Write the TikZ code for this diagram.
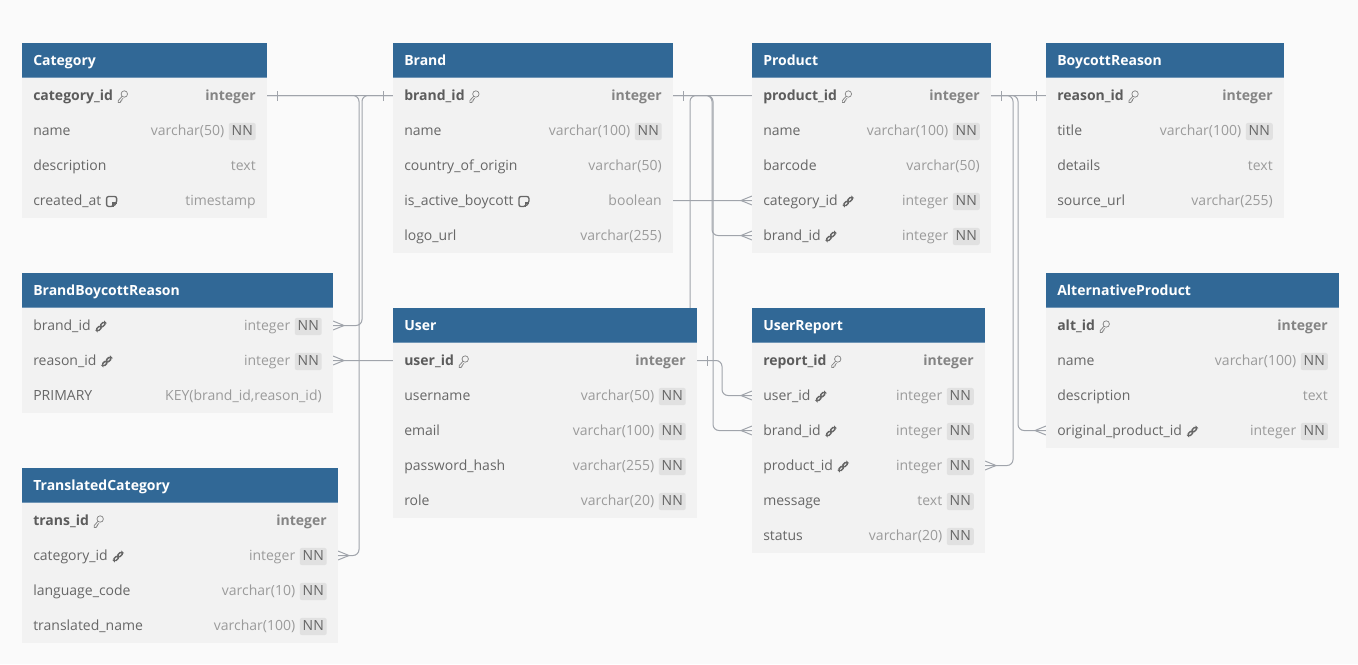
\documentclass[tikz,border=0pt]{standalone}
\usepackage{fontspec}
\setmainfont{Open Sans}
\usetikzlibrary{calc}
\definecolor{hdblue}{HTML}{316896}
\definecolor{rowgrey}{HTML}{F2F2F2}
\definecolor{canvasgrey}{HTML}{FAFAFA}
\definecolor{fldtxt}{HTML}{676767}
\definecolor{pktxt}{HTML}{5C5C5C}
\definecolor{typtxt}{HTML}{9B9B9B}
\definecolor{nnbg}{HTML}{E1E1E1}
\definecolor{relgrey}{HTML}{A0A4AB}
\pgfdeclarelayer{canvaslayer}
\pgfdeclarelayer{rellayer}
\pgfsetlayers{canvaslayer,rellayer,main}
\tikzset{
  txt/.style={inner sep=0pt, font=\fontsize{10.5pt}{12pt}\selectfont, text height=7.6pt, text depth=2.2pt},
  tbltitle/.style={txt, text=white, font=\fontsize{10.5pt}{12pt}\selectfont\bfseries},
  fldx/.style={txt, text=fldtxt},
  fldf/.style={txt, text=fldtxt},
  fldn/.style={txt, text=fldtxt},
  fldk/.style={txt, text=pktxt, font=\fontsize{10.5pt}{12pt}\selectfont\bfseries},
  typx/.style={txt, text=typtxt},
  typf/.style={txt, text=typtxt},
  typn/.style={txt, text=typtxt},
  typk/.style={txt, text=typtxt!85!black, font=\fontsize{10.5pt}{12pt}\selectfont\bfseries},
  nnbox/.style={txt, fill=nnbg, text=fldtxt, rounded corners=1.5pt, inner xsep=2.2pt, minimum height=12.8pt},
  rel/.style={draw=relgrey, line width=0.75pt, rounded corners=4.5pt},
  % icons (pic y axis points up)
  pics/icx/.style={code={}},
  pics/ick/.style={code={
    \draw[fldtxt!80, line width=0.55pt] (11,2.5) circle (3.2);
    \draw[fldtxt!80, line width=0.55pt] (8.8,0.2) -- (5,-4) -- (5,-6) -- (7,-6) -- (7.2,-4.6) -- (8.4,-4.4) -- (8.4,-3.2) -- (9.8,-1.8);
  }},
  pics/icf/.style={code={
    \draw[fldtxt, line width=1.1pt, rounded corners=1.2pt, rotate around={45:(8,-2)}] (5,-3.4) rectangle (11,-0.6);
    \draw[fldtxt, line width=1.1pt, rounded corners=1.2pt, rotate around={45:(12,2)}] (9,0.6) rectangle (15,3.4);
  }},
  pics/icn/.style={code={
    \draw[fldtxt, line width=1pt, rounded corners=1.5pt] (5,5) -- (15,5) -- (15,-1.5) -- (11.5,-5) -- (5,-5) -- cycle;
    \draw[fldtxt, line width=1pt] (15,-1.5) -- (11.5,-1.5) -- (11.5,-5);
  }},
  pics/onemark/.style={code={\draw[rel, rounded corners=0pt] (#1*10,-5) -- (#1*10,5);}},
  pics/manymark/.style={code={\draw[rel, rounded corners=0pt] (0,-4.5) -- (#1*11,0) -- (0,4.5);}},
}
% one table: id, x, y, width, title, rows (field/icon/type/notnull)
\newcommand{\ertable}[6]{%
  \fill[hdblue] (#2,#3) rectangle ++(#4,35);
  \draw[hdblue!70!white, line width=0.75pt] (#2,#3+34.5) -- ++(#4,0);
  \node[tbltitle, anchor=west] (#1) at (#2+11,#3+18.5) {#5};
  \foreach \fld/\ic/\typ/\nn [count=\i] in {#6} {
    \fill[rowgrey] (#2,#3+35*\i) rectangle ++(#4,35);
    \coordinate (#1-\i-l) at (#2,#3+17.5+35*\i);
    \coordinate (#1-\i-r) at (#2+#4,#3+17.5+35*\i);
    \node[fld\ic, anchor=west] (#1-\i-n) at (#2+11,#3+18.5+35*\i) {\fld};
    \pic at (#1-\i-n.east) {ic\ic};
    \ifnum\nn=1\relax
      \node[nnbox, anchor=east] (#1-\i-nn) at (#2+#4-11,#3+18.5+35*\i) {NN};
      \node[typ\ic, anchor=east] (#1-\i-t) at ($(#1-\i-nn.west)+(-4,0)$) {\typ};
    \else
      \node[typ\ic, anchor=east] (#1-\i-t) at (#2+#4-11,#3+18.5+35*\i) {\typ};
    \fi
  }%
}
\begin{document}
\begin{tikzpicture}[x=0.75pt,y=0.75pt,yscale=-1,xscale=1]
\begin{pgfonlayer}{canvaslayer}
\fill[canvasgrey] (0,0) rectangle (1358,664);
\end{pgfonlayer}
\useasboundingbox (0,0) rectangle (1358,664);

% Tables
\ertable{Cat}{22}{43}{245}{Category}{category\_id/k/integer/0, name/x/varchar(50)/1, description/x/text/0, created\_at/n/timestamp/0}
\ertable{Brand}{393}{43}{280}{Brand}{brand\_id/k/integer/0, name/x/varchar(100)/1, country\_of\_origin/x/varchar(50)/0, is\_active\_boycott/n/boolean/0, logo\_url/x/varchar(255)/0}
\ertable{Prod}{752}{43}{239}{Product}{product\_id/k/integer/0, name/x/varchar(100)/1, barcode/x/varchar(50)/0, category\_id/f/integer/1, brand\_id/f/integer/1}
\ertable{BR}{1046}{43}{238}{BoycottReason}{reason\_id/k/integer/0, title/x/varchar(100)/1, details/x/text/0, source\_url/x/varchar(255)/0}
\ertable{BBR}{22}{273}{311}{BrandBoycottReason}{brand\_id/f/integer/1, reason\_id/f/integer/1, {PRIMARY/x/KEY(brand\_id,reason\_id)/0}}
\ertable{User}{393}{308}{304}{User}{user\_id/k/integer/0, username/x/varchar(50)/1, email/x/varchar(100)/1, password\_hash/x/varchar(255)/1, role/x/varchar(20)/1}
\ertable{UR}{752}{308}{233}{UserReport}{report\_id/k/integer/0, user\_id/f/integer/1, brand\_id/f/integer/1, product\_id/f/integer/1, message/x/text/1, status/x/varchar(20)/1}
\ertable{Alt}{1046}{273}{293}{AlternativeProduct}{alt\_id/k/integer/0, name/x/varchar(100)/1, description/x/text/0, original\_product\_id/f/integer/1}
\ertable{Tr}{22}{468}{316}{TranslatedCategory}{trans\_id/k/integer/0, category\_id/f/integer/1, language\_code/x/varchar(10)/1, translated\_name/x/varchar(100)/1}

% Relations
\begin{pgfonlayer}{rellayer}
\draw[rel] (Cat-1-r) -- ++(92,0) |- (Tr-2-r);
\draw[rel] (Cat-1-r) -- ++(243,0) |- (Prod-4-l);
\draw[rel] (Brand-1-l) -- ++(-31,0) |- (BBR-1-r);
\draw[rel] (Brand-1-r) -- ++(39,0) |- (Prod-5-l);
\draw[rel] (Brand-1-r) -- ++(40,0) |- (UR-3-l);
\draw[rel] (BR-1-l) -- ++(-356,0) |- (BBR-2-r);
\draw[rel] (User-1-r) -- ++(25,0) |- (UR-2-l);
\draw[rel] (Prod-1-r) -- ++(22,0) |- (UR-4-r);
\draw[rel] (Prod-1-r) -- ++(27,0) |- (Alt-4-l);
% one ends
\pic at (Cat-1-r) {onemark=1};
\pic at (Brand-1-l) {onemark=-1};
\pic at (Brand-1-r) {onemark=1};
\pic at (BR-1-l) {onemark=-1};
\pic at (User-1-r) {onemark=1};
\pic at (Prod-1-r) {onemark=1};
% many ends
\pic at (Tr-2-r) {manymark=1};
\pic at (Prod-4-l) {manymark=-1};
\pic at (Prod-5-l) {manymark=-1};
\pic at (BBR-1-r) {manymark=1};
\pic at (BBR-2-r) {manymark=1};
\pic at (UR-2-l) {manymark=-1};
\pic at (UR-3-l) {manymark=-1};
\pic at (UR-4-r) {manymark=1};
\pic at (Alt-4-l) {manymark=-1};
\end{pgfonlayer}

\end{tikzpicture}
\end{document}
